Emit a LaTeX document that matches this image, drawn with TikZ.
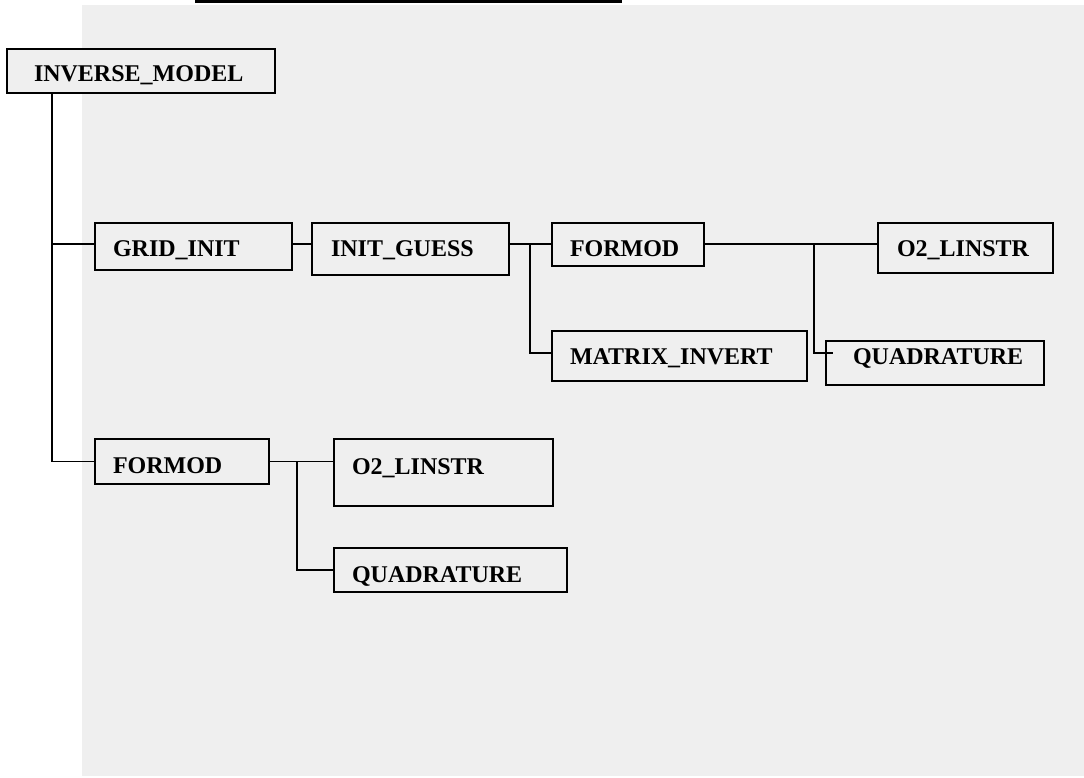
\documentclass[tikz,border=0pt]{standalone}
\usepackage{fontspec}
\setmainfont{Liberation Serif}
\usepackage{tikz}

\definecolor{panelgray}{RGB}{239,239,239}

\tikzset{
  modbox/.style={draw, line width=1.4pt, fill=panelgray, anchor=north west,
    outer sep=0pt, inner xsep=0pt, inner ysep=0pt, align=left,
    font=\bfseries\fontsize{24}{28}\selectfont},
  lpad/.style={execute at begin node={\hspace*{#1}}},
  link/.style={line width=1.4pt},
}

\begin{document}
\begin{tikzpicture}[x=1pt, y=-1pt]
    \useasboundingbox (0,0) rectangle (1084,778);
    \fill[panelgray] (82,5) rectangle (1084,776);
    \draw[line width=3pt] (196,-20) -- (196,2) -- (620,2) -- (620,-20);

    \node[modbox, lpad=27pt, text width=268pt, text height=33pt, text depth=11pt] (invmodel) at (7,49) {INVERSE\_MODEL};

    \node[modbox, lpad=18pt, text width=197pt, text height=33pt, text depth=14pt] (gridinit) at (95,223) {GRID\_INIT};
    \node[modbox, lpad=19pt, text width=197pt, text height=33pt, text depth=19pt] (initguess) at (312,223) {INIT\_GUESS};
    \node[modbox, lpad=18pt, text width=152pt, text height=33pt, text depth=10pt] (formod) at (552,223) {FORMOD};
    \node[modbox, lpad=18pt, text width=255pt, text height=33pt, text depth=17pt] (matrix) at (552,331) {MATRIX\_INVERT};
    \node[modbox, lpad=19pt, text width=175pt, text height=33pt, text depth=17pt] (otwo) at (878,223) {O2\_LINSTR};
    \node[modbox, lpad=27pt, text width=218pt, text height=23pt, text depth=21pt] (quad) at (826,341) {QUADRATURE};

    \node[modbox, lpad=18pt, text width=174pt, text height=34pt, text depth=11pt] (formodb) at (95,439) {FORMOD};
    \node[modbox, lpad=18pt, text width=219pt, text height=35pt, text depth=32pt] (otwob) at (334,439) {O2\_LINSTR};
    \node[modbox, lpad=18pt, text width=233pt, text height=34pt, text depth=10pt] (quadb) at (334,548) {QUADRATURE};

    \coordinate (spine) at (52,244);
    \coordinate (fork1) at (530,353);
    \coordinate (fork2) at (814,353);
    \coordinate (fork3) at (297,570);

    \draw[link] (invmodel.south -| spine) -- (spine |- formodb.west) -- (formodb.west);
    \draw[link] (spine) -- (spine -| gridinit.west);
    \draw[link] (gridinit.east |- spine) -- (initguess.west |- spine);
    \draw[link] (initguess.east |- spine) -- (formod.west |- spine);
    \draw[link] (fork1 |- spine) -- (fork1) -- (fork1 -| matrix.west);
    \draw[link] (formod.east |- spine) -- (otwo.west |- spine);
    \draw[link] (fork2 |- spine) -- (fork2) -- ([xshift=7pt]fork2 -| quad.west);
    \draw[link] (formodb.east) -- (otwob.west |- formodb.east);
    \draw[link] (fork3 |- formodb.east) -- (fork3) -- (fork3 -| quadb.west);
\end{tikzpicture}
\end{document}
